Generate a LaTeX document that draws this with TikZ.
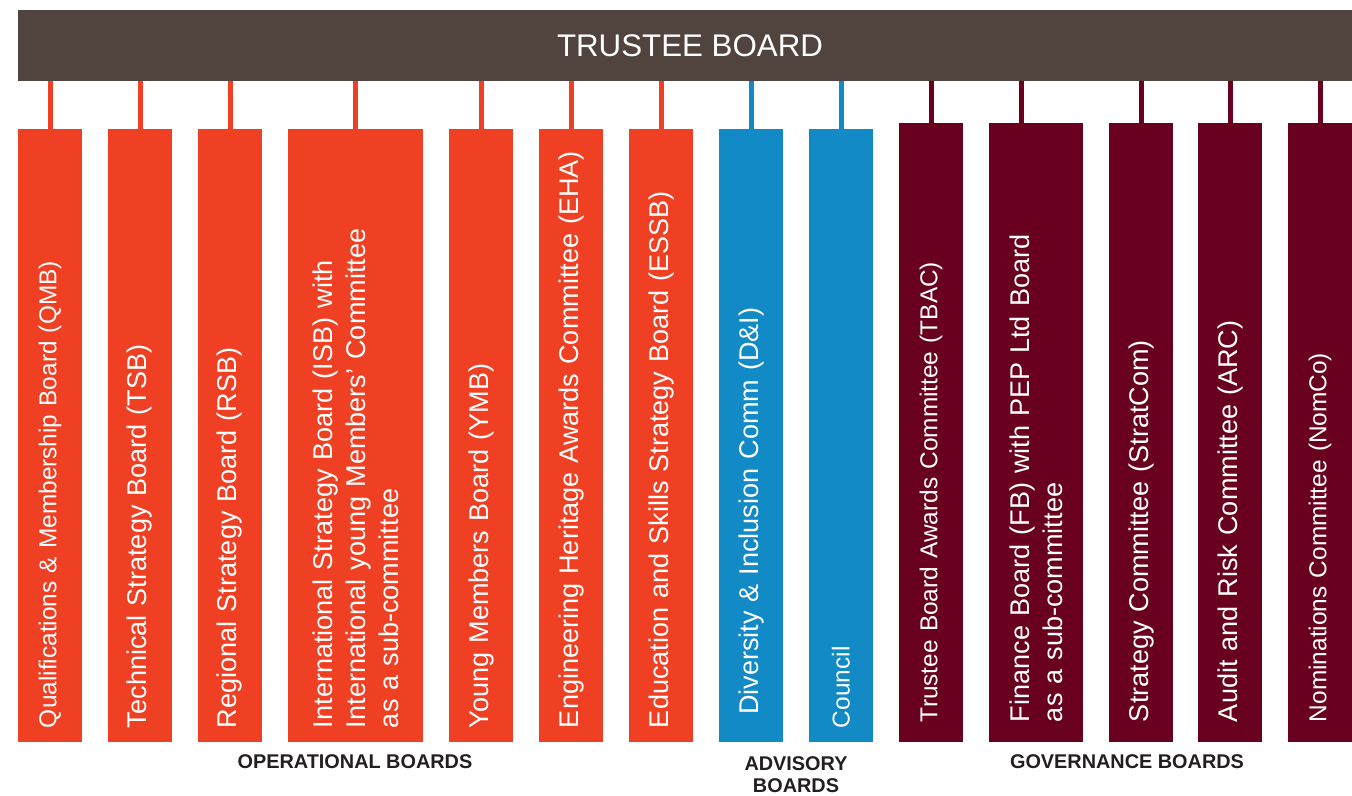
\documentclass[tikz,border=0pt]{standalone}
\usepackage{fontspec}
\setmainfont{Liberation Sans}
\usepackage{tikz}
\usetikzlibrary{calc}

\definecolor{hdrcol}{HTML}{51443F}
\definecolor{opcol}{HTML}{EF4023}
\definecolor{advcol}{HTML}{118AC6}
\definecolor{govcol}{HTML}{6A0020}
\definecolor{lblcol}{HTML}{231F20}

\tikzset{
    board/.style={rotate=90, fill=#1, text=white, align=left,
        font=\fontsize{15.4}{18.7}\selectfont,
        inner ysep=0pt, minimum height=1.28cm},
    opbox/.style={board=opcol, inner xsep=0.28cm, text width=11.70cm},
    advbox/.style={board=advcol, inner xsep=0.28cm, text width=11.70cm},
    govbox/.style={board=govcol, inner xsep=0.40cm, text width=11.58cm},
    smalltxt/.style={font=\fontsize{13.9}{16.8}\selectfont},
    conn/.style={line width=0.1cm},
    grouplbl/.style={text=lblcol, align=center, font=\fontsize{11.3}{12.6}\selectfont\bfseries}
}

\begin{document}
\begin{tikzpicture}
            \useasboundingbox (0,0) rectangle (27.04,15.9);

            \node[fill=hdrcol, minimum width=26.68cm, minimum height=1.42cm] (trustee) at (13.70,14.99) {};
            \node[text=white, font=\fontsize{17.8}{20}\selectfont] (trusteetxt) at (13.80,14.99) {TRUSTEE BOARD};

            \node[opbox, smalltxt] (qmb) at (1.00,7.19) {Qualifications \& Membership Board (QMB)};
            \node[opbox] (tsb) at (2.80,7.19) {Technical Strategy Board (TSB)};
            \node[opbox] (rsb) at (4.60,7.19) {Regional Strategy Board (RSB)};
            \node[opbox, minimum height=2.70cm] (isb) at (7.11,7.19) {International Strategy Board (ISB) with\\International young Members’ Committee\\as a sub-committee};
            \node[opbox] (ymb) at (9.62,7.19) {Young Members Board (YMB)};
            \node[opbox] (eha) at (11.42,7.19) {Engineering Heritage Awards Committee (EHA)};
            \node[opbox] (essb) at (13.22,7.19) {Education and Skills Strategy Board (ESSB)};

            \node[advbox, inner xsep=0.54cm, text width=11.18cm] (dni) at (15.02,7.19) {Diversity \& Inclusion Comm (D\&I)};
            \node[advbox, smalltxt] (council) at (16.82,7.19) {Council};

            \node[govbox, smalltxt] (tbac) at (18.62,7.25) {Trustee Board Awards Committee (TBAC)};
            \node[govbox, minimum height=1.88cm] (fb) at (20.72,7.25) {Finance Board (FB) with PEP Ltd Board\\as a sub-committee};
            \node[govbox] (strat) at (22.82,7.25) {Strategy Committee (StratCom)};
            \node[govbox] (arc) at (24.60,7.25) {Audit and Risk Committee (ARC)};
            \node[govbox, smalltxt] (nomco) at (26.40,7.25) {Nominations Committee (NomCo)};

            \foreach \n\c in {qmb/opcol, tsb/opcol, rsb/opcol, isb/opcol, ymb/opcol, eha/opcol, essb/opcol, dni/advcol, council/advcol, tbac/govcol, strat/govcol, arc/govcol, nomco/govcol} {
                \draw[conn, \c] (\n.east) -- (\n.east |- trustee.south);
            }
            \draw[conn, govcol] ($(fb.east)+(-0.30,0)$) -- ($(fb.east |- trustee.south)+(-0.30,0)$);

            \node[grouplbl] (oplbl) at (7.10,0.66) {OPERATIONAL BOARDS};
            \node[grouplbl] (advlbl) at (15.92,0.41) {ADVISORY\\BOARDS};
            \node[grouplbl] (govlbl) at (22.54,0.66) {GOVERNANCE BOARDS};
        \end{tikzpicture}
\end{document}
